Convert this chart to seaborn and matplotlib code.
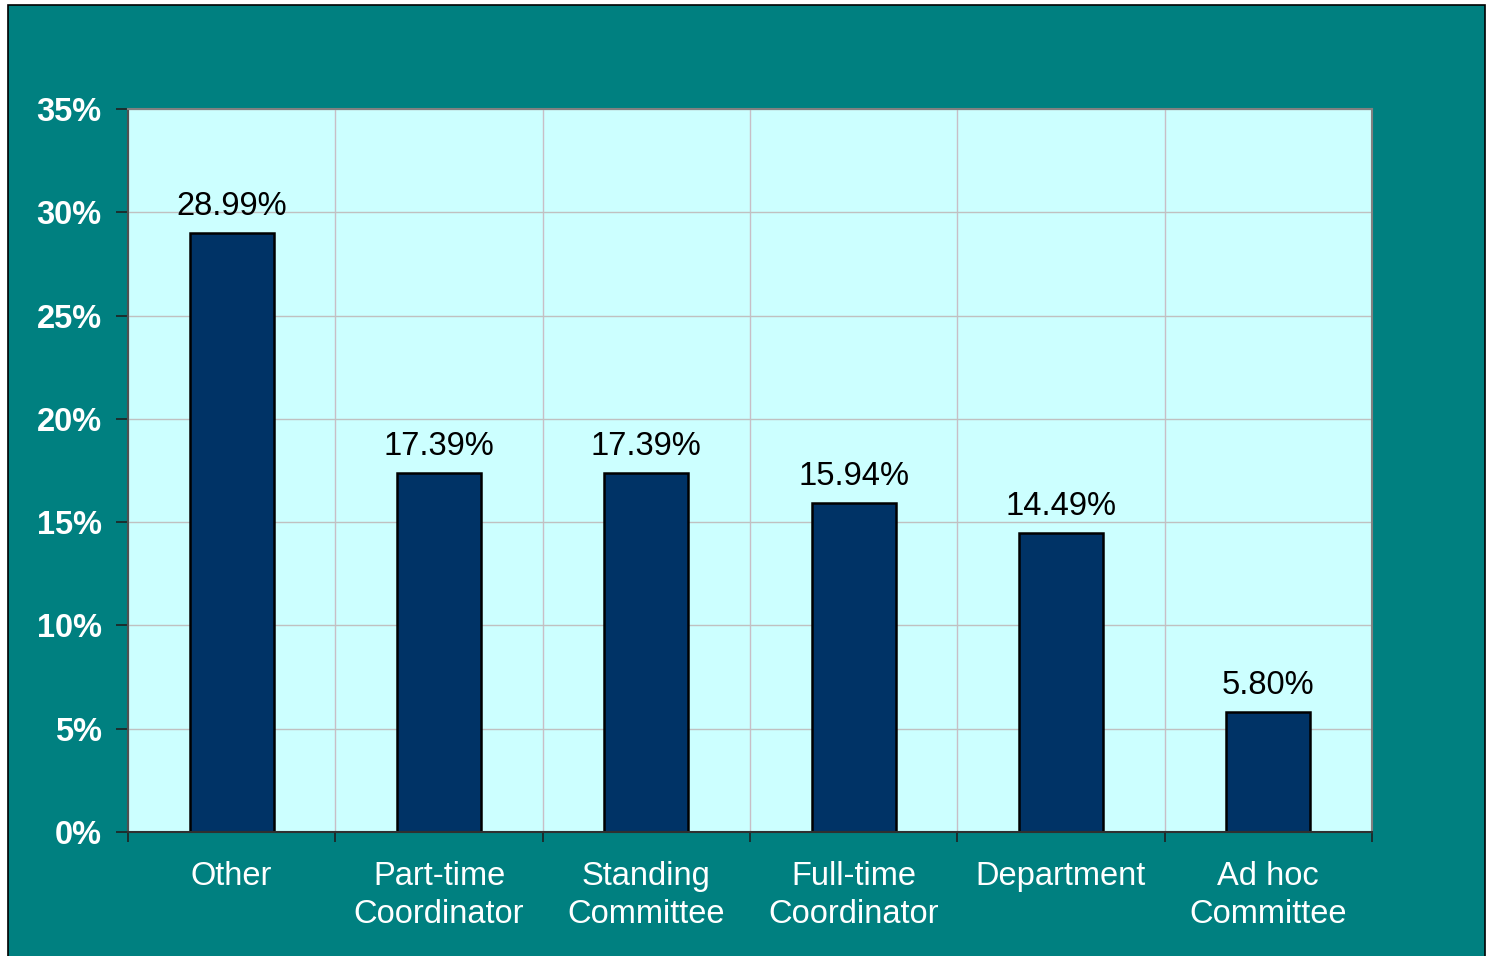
import matplotlib
matplotlib.use("Agg")
import matplotlib.pyplot as plt
from matplotlib.patches import Rectangle
from matplotlib.ticker import FixedLocator, PercentFormatter
import seaborn as sns
import pandas as pd

categories = ["Other", "Part-time\nCoordinator", "Standing\nCommittee",
              "Full-time\nCoordinator", "Department", "Ad hoc\nCommittee"]
values = [28.99, 17.39, 17.39, 15.94, 14.49, 5.80]
value_labels = ["28.99%", "17.39%", "17.39%", "15.94%", "14.49%", "5.80%"]
y_ticks = [0, 5, 10, 15, 20, 25, 30, 35]

sns.set_theme(style="white")
plt.rcParams['font.family'] = ['Liberation Sans', 'DejaVu Sans']

df = pd.DataFrame({"category": categories, "value": values})

fig = plt.figure(figsize=(14.9, 9.56), dpi=100, facecolor="white")
# teal chart background with thin black border
bg = Rectangle((8 / 1490, -0.01), (1485 - 8) / 1490, 1 - 5 / 956 + 0.01,
               transform=fig.transFigure, facecolor="#008080",
               edgecolor="black", linewidth=1.2, zorder=-10)
fig.patches.append(bg)

ax = fig.add_axes([128 / 1490, 1 - 832 / 956, (1372 - 128) / 1490, (832 - 109) / 956])
ax.set_zorder(1)
ax.set_facecolor("#CCFFFF")

sns.barplot(data=df, x="category", y="value", order=categories, color="#003366",
            width=0.405, edgecolor="black", linewidth=1.8, saturation=1, ax=ax, zorder=3)

ax.set_xlim(-0.5, len(categories) - 0.5)
ax.set_ylim(0, 35)
ax.yaxis.set_major_locator(FixedLocator(y_ticks))
ax.yaxis.set_major_formatter(PercentFormatter(decimals=0))

# vertical grid lines at category boundaries
ax.xaxis.set_minor_locator(FixedLocator([i - 0.5 for i in range(len(categories) + 1)]))
ax.grid(axis="y", which="major", color="#C0C0C0", linewidth=1.0, zorder=0)
ax.grid(axis="x", which="minor", color="#C8BEC6", linewidth=1.0, zorder=0)
ax.set_axisbelow(True)

ax.set_xlabel("")
ax.set_ylabel("")

ax.tick_params(axis="y", which="major", left=True, length=9, width=1.2, color="#202020",
               direction="out", pad=10, labelsize=23.5, labelcolor="white")
for lab in ax.get_yticklabels():
    lab.set_fontweight("bold")
ax.tick_params(axis="x", which="major", bottom=False, length=0, pad=21,
               labelsize=23.5, labelcolor="white")
for lab in ax.get_xticklabels():
    lab.set_linespacing(1.3)
ax.tick_params(axis="x", which="minor", bottom=True, length=7, width=1.2,
               color="#202020", direction="out")

for side in ["top", "right"]:
    ax.spines[side].set_color("#808080")
    ax.spines[side].set_linewidth(1.5)
ax.spines["left"].set_color("#505050")
ax.spines["left"].set_linewidth(1.5)
ax.spines["bottom"].set_color("#303030")
ax.spines["bottom"].set_linewidth(1.5)
for s in ax.spines.values():
    s.set_visible(True)
    s.set_zorder(4)

ax.bar_label(ax.containers[0], labels=value_labels, padding=8, fontsize=23.5, color="black")

fig.savefig("out.png", dpi=100, facecolor=fig.get_facecolor())
